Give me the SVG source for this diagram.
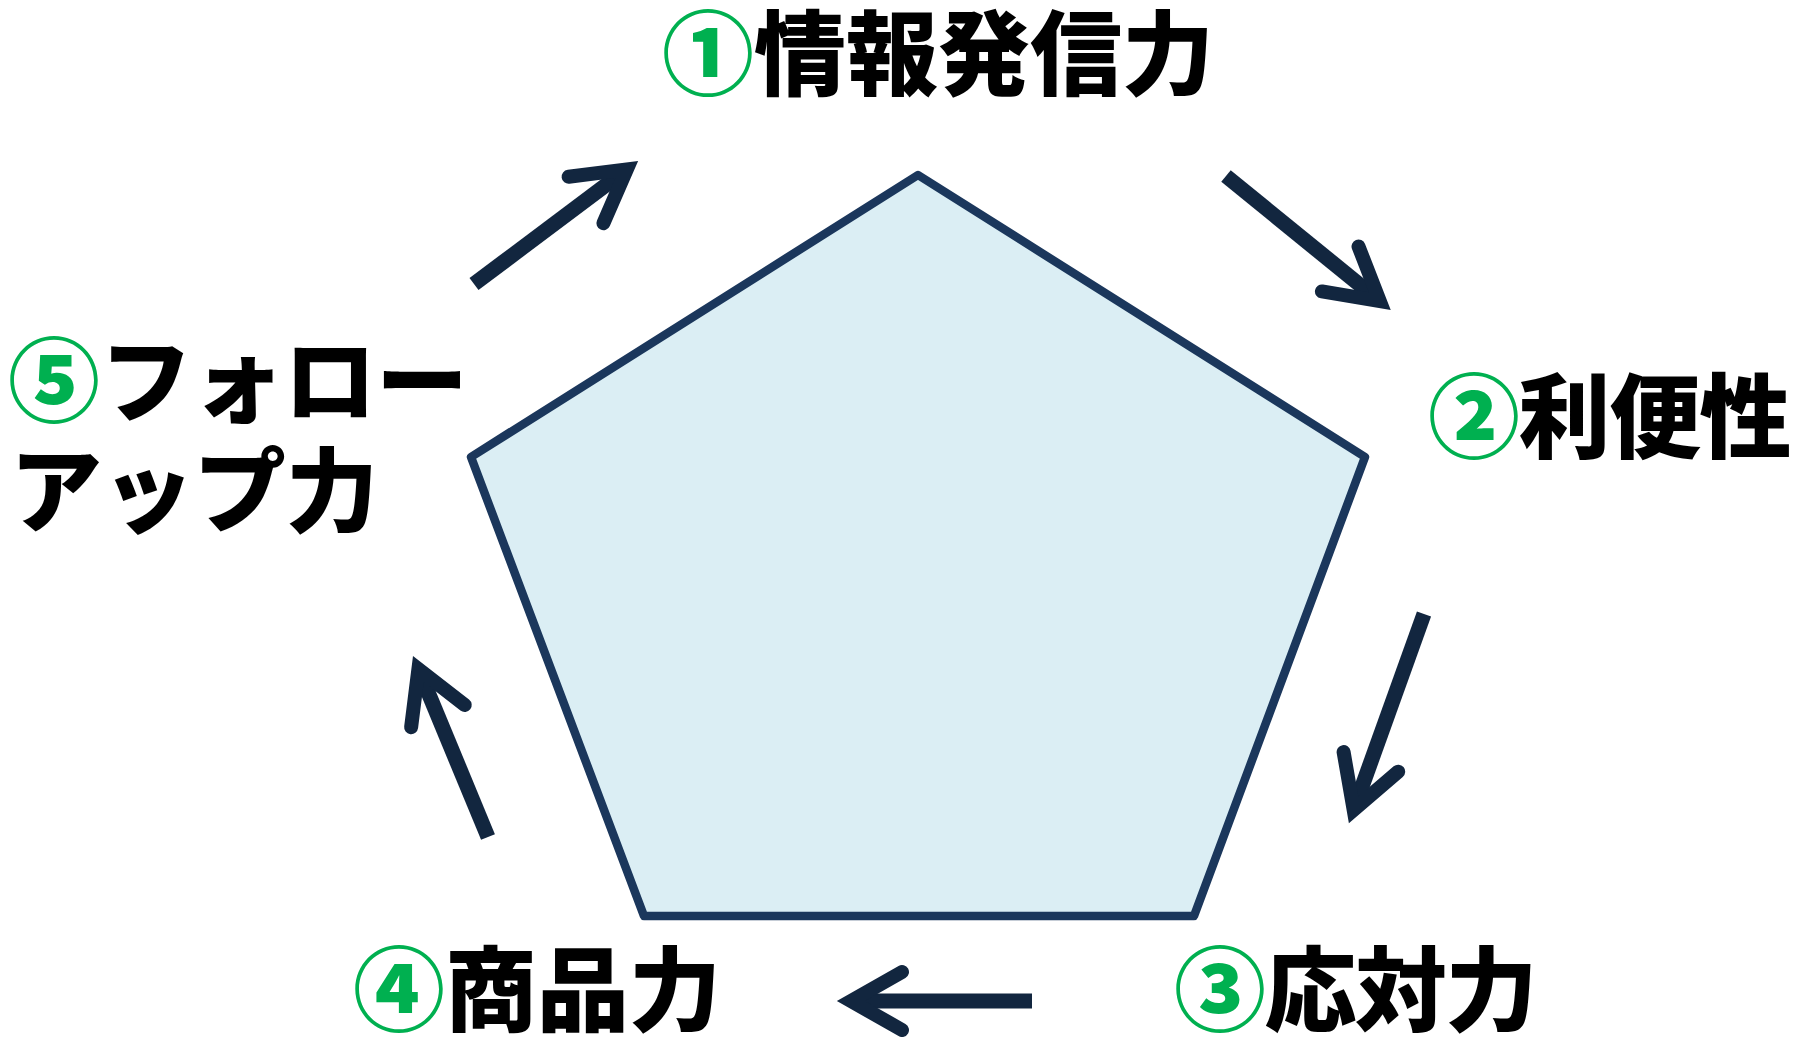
<svg xmlns="http://www.w3.org/2000/svg" width="1808" height="1037" viewBox="0 0 1808 1037">
<style>
.lbl{font-family:"Noto Sans CJK JP","Noto Sans CJK SC",sans-serif;font-weight:900;font-size:92px;fill:#000}
.num{fill:#00B050}
.shaft{stroke:#12263f;stroke-width:15;fill:none;stroke-linecap:butt}
</style>
<defs>
<marker id="head" markerUnits="userSpaceOnUse" orient="auto" refX="-15" refY="0" markerWidth="10" markerHeight="10" overflow="visible">
<polyline points="-65,-29 -14,0 -65,29" fill="none" stroke="#12263f" stroke-width="14" stroke-linejoin="miter" stroke-miterlimit="10" stroke-linecap="round"/>
</marker>
</defs>
<rect width="1808" height="1037" fill="#fff"/>
<g id="pentagon">
<polygon points="918,175 1365,457 1194,916 644,916 471,457" fill="#DBEEF4" stroke="#1b375c" stroke-width="8.5" stroke-linejoin="round"/>
</g>
<g id="connectors">
<line class="shaft" x1="474" y1="284" x2="626" y2="170" marker-end="url(#head)"/>
<line class="shaft" x1="1226" y1="176" x2="1379" y2="300.5" marker-end="url(#head)"/>
<line class="shaft" x1="1424" y1="614" x2="1354" y2="808.9" marker-end="url(#head)"/>
<line class="shaft" x1="1032" y1="1001" x2="852" y2="1001" marker-end="url(#head)"/>
<line class="shaft" x1="488" y1="837" x2="418.8" y2="669.9" marker-end="url(#head)"/>
</g>
<g id="node1"><text class="lbl" x="662" y="88"><tspan class="num">①</tspan>情報発信力</text></g>
<g id="node2"><text class="lbl" x="1428" y="451" letter-spacing="-1.5"><tspan class="num">②</tspan>利便性</text></g>
<g id="node3"><text class="lbl" x="1174" y="1024" letter-spacing="-1.5"><tspan class="num">③</tspan>応対力</text></g>
<g id="node4"><text class="lbl" x="353" y="1024"><tspan class="num">④</tspan>商品力</text></g>
<g id="node5"><text class="lbl" x="8" y="415"><tspan class="num">⑤</tspan>フォロー</text><text class="lbl" x="10" y="525">アップ力</text></g>
</svg>
